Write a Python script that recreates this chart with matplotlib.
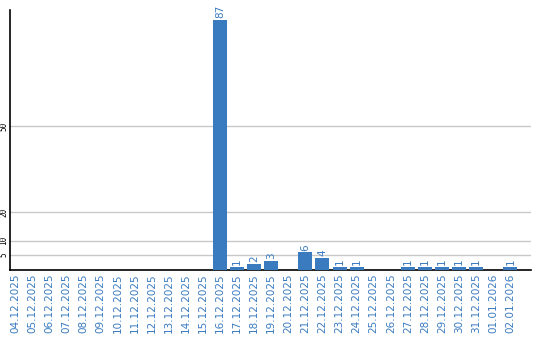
import matplotlib
matplotlib.use("Agg")
import matplotlib.pyplot as plt

dates = ["04.12.2025", "05.12.2025", "06.12.2025", "07.12.2025", "08.12.2025",
         "09.12.2025", "10.12.2025", "11.12.2025", "12.12.2025", "13.12.2025",
         "14.12.2025", "15.12.2025", "16.12.2025", "17.12.2025", "18.12.2025",
         "19.12.2025", "20.12.2025", "21.12.2025", "22.12.2025", "23.12.2025",
         "24.12.2025", "25.12.2025", "26.12.2025", "27.12.2025", "28.12.2025",
         "29.12.2025", "30.12.2025", "31.12.2025", "01.01.2026", "02.01.2026"]
values = [0, 0, 0, 0, 0, 0, 0, 0, 0, 0, 0, 0, 87, 1, 2, 3, 0, 6, 4, 1, 1, 0, 0,
          1, 1, 1, 1, 1, 0, 1]
yticks = [5, 10, 20, 50]

W, H = 540, 340
fig = plt.figure(figsize=(W / 100, H / 100), dpi=100)
ax = fig.add_axes([10 / W, (H - 269.5) / H, 520.5 / W, 259.5 / H])

color = "#3a7bc0"
x = list(range(len(dates)))
ax.bar(x, values, width=0.82, color=color, zorder=3)
for xi, v in zip(x, values):
    if v > 0:
        ax.text(xi, v + 0.6, str(v), rotation=90, ha="center", va="bottom",
                color=color, fontsize=7.5, zorder=4)

step = 17.08
x0 = (15 - 10) / step
ax.set_xlim(-x0, -x0 + 520.5 / step)
ax.set_ylim(0, 90.5)
ax.set_yticks(yticks)
ax.set_yticklabels([str(t) for t in yticks], rotation=90, va="center",
                   fontsize=5.5, family="DejaVu Sans Mono")
ax.set_xticks(x)
ax.set_xticklabels(dates, rotation=90, fontsize=7.5, color=color)
ax.tick_params(axis="both", length=0)
ax.tick_params(axis="y", pad=1)
ax.tick_params(axis="x", pad=3)
ax.grid(axis="y", color="#c8c8c8", linewidth=1, zorder=0)
for s in ["top", "right"]:
    ax.spines[s].set_visible(False)
for s in ["left", "bottom"]:
    ax.spines[s].set_color("black")
    ax.spines[s].set_linewidth(1.2)

fig.savefig("out.png", dpi=100)
